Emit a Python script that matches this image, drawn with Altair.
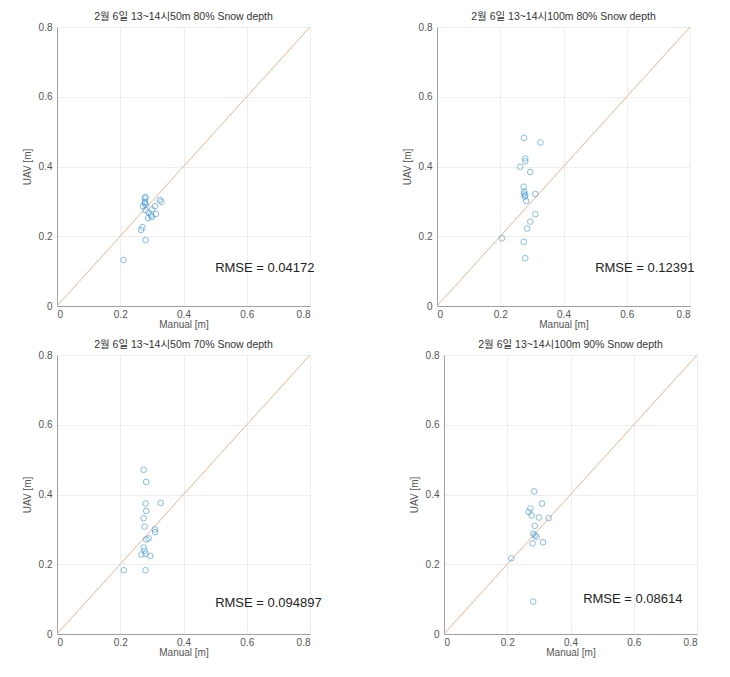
import altair as alt
import pandas as pd

# ---- data ----
titles = [
    "2월 6일 13~14시50m 80% Snow depth",
    "2월 6일 13~14시100m 80% Snow depth",
    "2월 6일 13~14시50m 70% Snow depth",
    "2월 6일 13~14시100m 90% Snow depth",
]
rmse_labels = ["RMSE = 0.04172", "RMSE = 0.12391", "RMSE = 0.094897", "RMSE = 0.08614"]
rmse_x = [0.50, 0.50, 0.50, 0.44]
rmse_y = [0.11, 0.11, 0.09, 0.10]

p1_manual = [0.21, 0.28, 0.27, 0.266, 0.288, 0.297, 0.313, 0.30, 0.31, 0.325, 0.33, 0.278, 0.278, 0.28, 0.272, 0.278, 0.29, 0.28, 0.28, 0.30]
p1_uav    = [0.132, 0.189, 0.226, 0.218, 0.252, 0.260, 0.264, 0.277, 0.286, 0.304, 0.299, 0.309, 0.299, 0.275, 0.286, 0.295, 0.268, 0.313, 0.291, 0.255]

p2_manual = [0.275, 0.327, 0.279, 0.279, 0.263, 0.295, 0.274, 0.276, 0.279, 0.311, 0.282, 0.311, 0.295, 0.285, 0.205, 0.274, 0.279, 0.275, 0.277]
p2_uav    = [0.482, 0.469, 0.423, 0.415, 0.399, 0.384, 0.342, 0.328, 0.318, 0.321, 0.301, 0.263, 0.242, 0.222, 0.194, 0.184, 0.137, 0.322, 0.313]

p3_manual = [0.274, 0.282, 0.28, 0.328, 0.282, 0.274, 0.277, 0.309, 0.31, 0.282, 0.29, 0.274, 0.277, 0.267, 0.28, 0.295, 0.211, 0.28]
p3_uav    = [0.471, 0.436, 0.374, 0.376, 0.353, 0.332, 0.308, 0.300, 0.292, 0.271, 0.274, 0.248, 0.239, 0.228, 0.230, 0.224, 0.183, 0.183]

p4_manual = [0.285, 0.31, 0.273, 0.268, 0.277, 0.30, 0.331, 0.287, 0.282, 0.287, 0.292, 0.313, 0.28, 0.213, 0.282]
p4_uav    = [0.409, 0.374, 0.360, 0.350, 0.340, 0.334, 0.332, 0.310, 0.288, 0.283, 0.279, 0.263, 0.260, 0.217, 0.093]

diag_vals = [0.0, 0.8]
tick_vals = [0, 0.2, 0.4, 0.6, 0.8]

FONT = "Liberation Sans, Noto Sans CJK KR, sans-serif"
W, H = 253, 279


def panel(title, manual, uav, label, tx, ty):
    df = pd.DataFrame({"Manual": manual, "UAV": uav})
    xs = alt.Scale(domain=[0, 0.8], nice=False)
    ys = alt.Scale(domain=[0, 0.8], nice=False)
    xax = alt.Axis(title="Manual [m]", values=tick_vals, format="~g", grid=True,
                   gridColor="#eeeeee", domainColor="#a0a0a0", ticks=False,
                   labelPadding=3, labelColor="#555555", labelFontSize=10,
                   titleColor="#555555", titleFontSize=10, titleFontWeight="normal",
                   titlePadding=0, labelFont=FONT, titleFont=FONT)
    yax = alt.Axis(title="UAV [m]", values=tick_vals, format="~g", grid=True,
                   gridColor="#eeeeee", domainColor="#a0a0a0", ticks=False,
                   labelPadding=5, labelColor="#555555", labelFontSize=10,
                   titleColor="#555555", titleFontSize=10, titleFontWeight="normal",
                   titlePadding=6, labelFont=FONT, titleFont=FONT)
    diag = alt.Chart(pd.DataFrame({"a": diag_vals})).mark_line(
        color="#ebb391", strokeWidth=1
    ).encode(x=alt.X("a:Q", scale=xs, axis=xax), y=alt.Y("a:Q", scale=ys, axis=yax))
    pts = alt.Chart(df).mark_point(
        shape="circle", filled=False, size=32, color="#3d97d3", strokeWidth=0.9
    ).encode(x=alt.X("Manual:Q", scale=xs), y=alt.Y("UAV:Q", scale=ys))
    txt = alt.Chart(pd.DataFrame({"x": [tx], "y": [ty], "t": [label]})).mark_text(
        align="left", baseline="middle", fontSize=13, color="#222222", font=FONT
    ).encode(x=alt.X("x:Q", scale=xs), y=alt.Y("y:Q", scale=ys), text="t:N")
    return alt.layer(diag, pts, txt).properties(
        width=W, height=H,
        title=alt.TitleParams(title, fontSize=10.5, fontWeight="normal", color="#333333",
                              font=FONT, offset=0),
    )


c1 = panel(titles[0], p1_manual, p1_uav, rmse_labels[0], rmse_x[0], rmse_y[0])
c2 = panel(titles[1], p2_manual, p2_uav, rmse_labels[1], rmse_x[1], rmse_y[1])
c3 = panel(titles[2], p3_manual, p3_uav, rmse_labels[2], rmse_x[2], rmse_y[2])
c4 = panel(titles[3], p4_manual, p4_uav, rmse_labels[3], rmse_x[3], rmse_y[3])

chart = alt.vconcat(
    alt.hconcat(c1, c2, spacing=86),
    alt.hconcat(c3, c4, spacing=85),
    spacing=9,
).properties(
    padding={"left": 13, "top": 3, "right": 0, "bottom": 0}
).configure_view(stroke=None).configure(background="white")

chart.save("out.html", embed_options={"renderer": "svg", "actions": False})
